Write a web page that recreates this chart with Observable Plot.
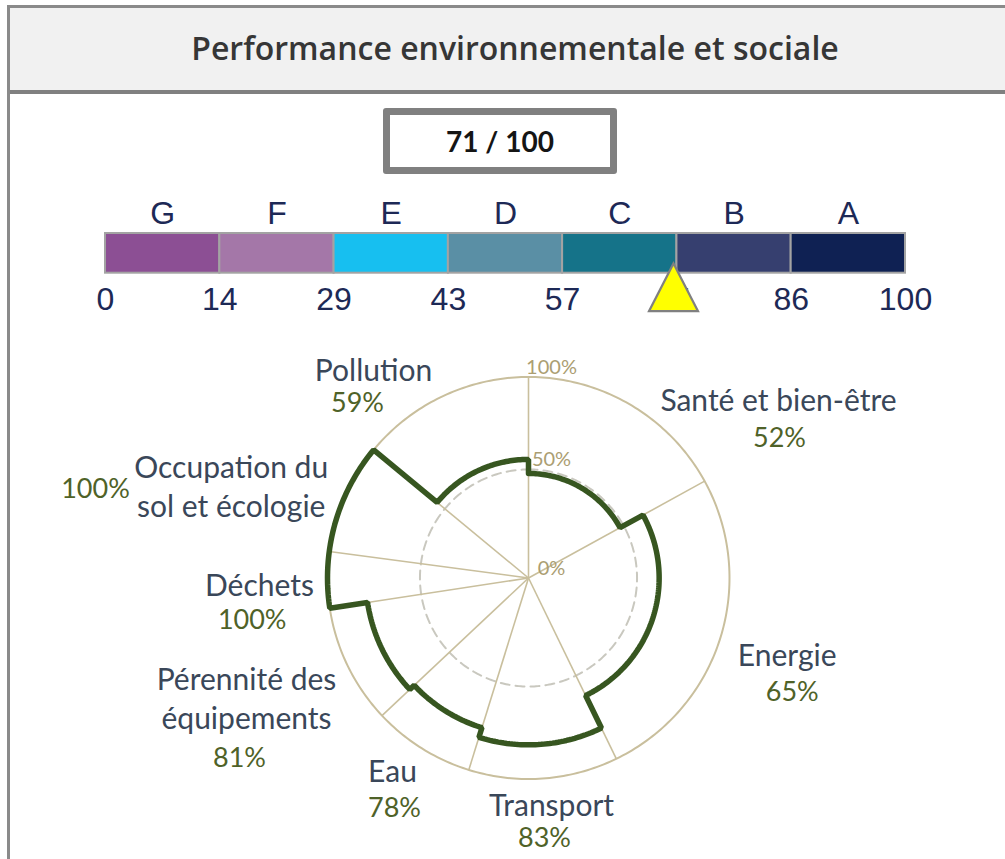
<!DOCTYPE html>
<html>
<head>
<meta charset="utf-8">
<script src="https://cdn.jsdelivr.net/npm/d3@7"></script>
<script src="https://cdn.jsdelivr.net/npm/@observablehq/plot@0.6"></script>
<style>
  html, body { margin: 0; padding: 0; background: #fff; }
  #page { position: relative; width: 1005px; height: 859px; overflow: hidden; background: #fff; }
  #frame { position: absolute; left: 7px; top: 5px; width: 1100px; height: 900px;
           border-left: 3px solid #8a8a8a; border-top: 3px solid #8a8a8a; }
  #band { position: absolute; left: 10px; top: 8px; width: 1100px; height: 82px;
          background: #f1f1f1; border-bottom: 4px solid #808080; }
  #title { position: absolute; left: 0; width: 1030px; top: 28px; text-align: center;
           font-family: "Open Sans", sans-serif; font-weight: 600; font-size: 32px;
           line-height: 40px; color: #363636; white-space: nowrap; }
  #scorebox { position: absolute; left: 383px; top: 108px; width: 220px; height: 52px;
              border: 7px solid #808080; border-radius: 3px; background: #fff;
              display: flex; align-items: center; justify-content: center;
              font-family: Lato, sans-serif; font-weight: 700; font-size: 28px; color: #151515; }
  #gradebar { position: absolute; left: 0; top: 185px; }
  #radar { position: absolute; left: 0; top: 340px; }
</style>
</head>
<body>
<div id="page">
  <div id="frame"></div>
  <div id="band"></div>
  <div id="title"></div>
  <div id="scorebox"></div>
  <div id="gradebar"></div>
  <div id="radar"></div>
</div>
<script>
// ---------------- DATA ----------------
const chartTitle = "Performance environnementale et sociale";
const globalScore = 71;
const scoreMax = 100;

const gradeLetters = ["G", "F", "E", "D", "C", "B", "A"];
const gradeBounds = [0, 14.29, 28.57, 42.86, 57.14, 71.43, 85.71, 100];
const gradeTickLabels = ["0", "14", "29", "43", "57", "71", "86", "100"];

const categories = ["Santé et bien-être", "Energie", "Transport", "Eau",
  "Pérennité des\néquipements", "Déchets", "Occupation du\nsol et écologie", "Pollution"];
const categoryScores = [52, 65, 83, 78, 81, 100, 100, 59];      // %
const categoryWeights = [17, 25.8, 12, 8.2, 9.6, 4.5, 8.9, 14]; // share of the circle, %

const radialTickValues = [0, 54, 100];
const radialTickLabels = ["0%", "50%", "100%"];
const referenceRing = 54;

// ---------------- STYLE / LAYOUT ----------------
const gradePalette = ["#8c4f94", "#a477a8", "#17bff0", "#5a8fa5", "#157389", "#363f6f", "#0f2153"];
const navy = "#1d2956";
const gridColor = "#c9bf9d";
const tanText = "#ab9e72";
const nameColor = "#3a4759";
const pctColor = "#4f6228";
const outlineColor = "#375620";

// label offsets in px from the radar centre: [nameX, nameY(last baseline), pctX, pctY(baseline)]
const labelLayout = [
  [250, -167.5, 251, -131.5],
  [258.7, 87.5, 263.7, 122.5],
  [23, 237.5, 16, 269.2],
  [-136, 204.2, -134, 239.2],
  [-282, 150.5, -289, 189.2],
  [-269, 17.5, -276.3, 50.5],
  [-297.3, -60.8, -433, -80],
  [-155, -197.5, -171, -165.8]
];

document.getElementById("title").textContent = chartTitle;
document.getElementById("scorebox").textContent = `${globalScore} / ${scoreMax}`;

// ---------------- GRADE BAR ----------------
const grades = gradeLetters.map((g, i) => ({
  letter: g, x1: gradeBounds[i], x2: gradeBounds[i + 1],
  mid: (gradeBounds[i] + gradeBounds[i + 1]) / 2, color: gradePalette[i]
}));
const ticks = gradeTickLabels.map((t, i) => ({label: t, value: gradeBounds[i]}));

const triangleSymbol = {
  draw(context) {
    context.moveTo(0, -9.7);
    context.lineTo(24.5, 38);
    context.lineTo(-24.5, 38);
    context.closePath();
  }
};

const barHeight = 135;
const gradePlot = Plot.plot({
  width: 1005, height: barHeight,
  marginLeft: 105, marginRight: 100, marginTop: 48, marginBottom: barHeight - 87.7,
  x: {domain: [0, 100], axis: null},
  color: {type: "identity"},
  style: {background: "transparent"},
  marks: [
    Plot.rect(grades, {x1: "x1", x2: "x2", fill: "color", stroke: "#a3a3a3", strokeWidth: 2}),
    Plot.text(grades, {x: "mid", text: "letter", frameAnchor: "top", dy: -10, lineAnchor: "bottom",
      fontSize: 32, fill: navy, fontFamily: "Liberation Sans, Arial, sans-serif"}),
    Plot.text(ticks, {x: "value", text: "label", frameAnchor: "bottom", dy: 36.5, lineAnchor: "bottom",
      fontSize: 32, fill: navy, fontFamily: "Liberation Sans, Arial, sans-serif"}),
    Plot.dot([globalScore], {x: d => d, frameAnchor: "bottom", symbol: triangleSymbol, r: 10,
      fill: "#ffff00", stroke: "#808080", strokeWidth: 2.2})
  ]
});
document.getElementById("gradebar").appendChild(gradePlot);

// ---------------- RADAR (rose) ----------------
const W = 1005, H = 519;
const CX = 528, CY = 237.5;     // centre in svg px
const k = 2.01;                 // px per percent
const rad = a => a * Math.PI / 180;
const polar = (angleDeg, r) => ({x: r * Math.sin(rad(angleDeg)), y: r * Math.cos(rad(angleDeg))});

let acc = 0;
const sectors = categories.map((c, i) => {
  const a0 = acc / 100 * 360;
  acc += categoryWeights[i];
  const a1 = acc / 100 * 360;
  return {name: c, value: categoryScores[i], a0, a1, mid: (a0 + a1) / 2, i};
});

// outline of the scores: arc per sector at its score radius, radial steps between
const outline = [];
sectors.forEach(s => {
  const n = Math.max(2, Math.ceil((s.a1 - s.a0) / 1));
  for (let j = 0; j <= n; j++) outline.push(polar(s.a0 + (s.a1 - s.a0) * j / n, s.value));
});
outline.push(outline[0]);

const ring = r => d3.range(0, 361, 1).map(a => polar(a, r));
const spokes = sectors.map(s => ({a: s.a0, ...polar(s.a0, 100)}));

const labelData = sectors.map((s, i) => ({
  name: s.name, pct: `${s.value}%`,
  nx: labelLayout[i][0] / k, ny: -labelLayout[i][1] / k,
  px: labelLayout[i][2] / k, py: -labelLayout[i][3] / k
}));
const radialTicks = radialTickValues.map((v, i) => ({label: radialTickLabels[i], ...polar(0, v)}));

const radarPlot = Plot.plot({
  width: W, height: H,
  marginLeft: 0, marginRight: 0, marginTop: 0, marginBottom: 0,
  x: {domain: [-CX / k, (W - CX) / k], range: [0, W], axis: null},
  y: {domain: [-(H - CY) / k, CY / k], range: [H, 0], axis: null},
  style: {background: "transparent"},
  marks: [
    Plot.line(ring(referenceRing), {x: "x", y: "y", stroke: "#c9c8bf", strokeWidth: 2, strokeDasharray: "9,6"}),
    Plot.line(ring(100), {x: "x", y: "y", stroke: gridColor, strokeWidth: 2}),
    Plot.link(spokes, {x1: 0, y1: 0, x2: "x", y2: "y", stroke: gridColor, strokeWidth: 1.6}),
    Plot.line(outline, {x: "x", y: "y", stroke: outlineColor, strokeWidth: 5.5, strokeLinejoin: "miter", curve: "linear"}),
    Plot.text(radialTicks, {x: "x", y: "y", text: "label", dx: 23, dy: -3, lineAnchor: "bottom",
      fill: tanText, fontSize: 20, fontFamily: "Lato, sans-serif"}),
    Plot.text(labelData, {x: "nx", y: "ny", text: "name", lineAnchor: "bottom", lineHeight: 1.3,
      fill: nameColor, fontSize: 30, fontFamily: "Lato, sans-serif"}),
    Plot.text(labelData, {x: "px", y: "py", text: "pct", lineAnchor: "bottom",
      fill: pctColor, fontSize: 27, fontFamily: "Lato, sans-serif"})
  ]
});
document.getElementById("radar").appendChild(radarPlot);
</script>
</body>
</html>
